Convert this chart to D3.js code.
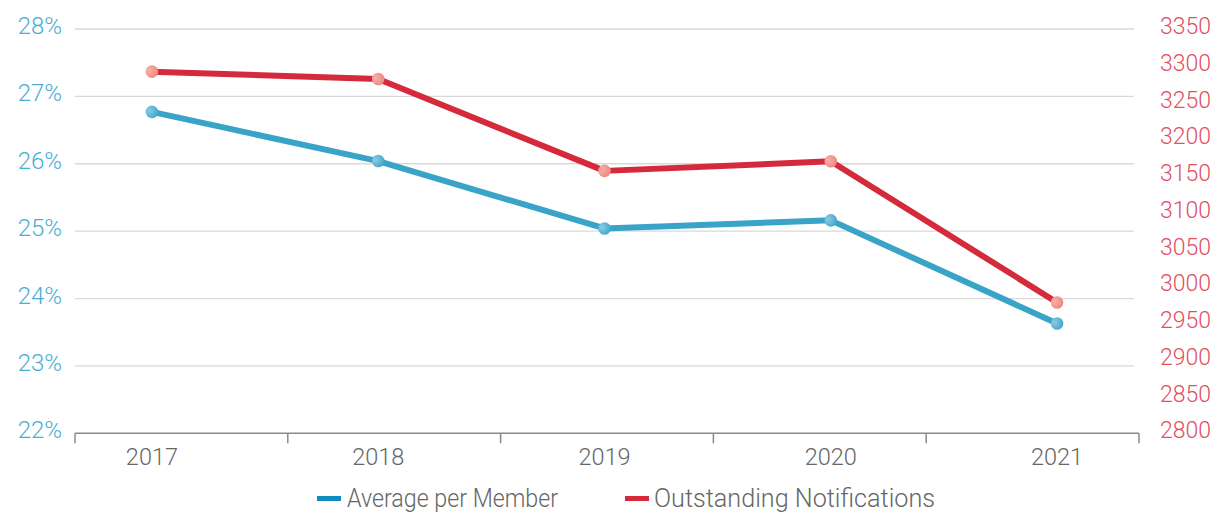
<!DOCTYPE html>
<html>
<head>
<meta charset="utf-8">
<script src="https://cdn.jsdelivr.net/npm/d3@7"></script>
<style>
  html, body { margin: 0; padding: 0; background: #fff; }
  svg { display: block; }
</style>
</head>
<body>
<svg id="chart" width="1218" height="513"></svg>
<script>
const years = ["2017", "2018", "2019", "2020", "2021"];
const averagePerMember = [26.77, 26.04, 25.04, 25.16, 23.63];
const outstandingNotifications = [3292, 3282, 3157, 3170, 2978];
const leftTicks = [22, 23, 24, 25, 26, 27, 28];
const rightTicks = [2800, 2850, 2900, 2950, 3000, 3050, 3100, 3150, 3200, 3250, 3300, 3350];
const seriesNames = ["Average per Member", "Outstanding Notifications"];

(function () {
const svg = d3.select("#chart");
const plotLeft = 75, plotRight = 1139, plotTop = 29, plotBottom = 433.3;

const xBand = d3.scaleBand().domain(years).range([plotLeft, plotRight]);
const x = d3.scalePoint().domain(years).range([plotLeft, 1134]).padding(0.34);
const yL = d3.scaleLinear().domain([22, 28]).range([plotBottom, plotTop]);
const yR = d3.scaleLinear().domain([2800, 3350]).range([plotBottom, plotTop]);

const defs = svg.append("defs");
function grad(id, c1, c2) {
  const g = defs.append("radialGradient").attr("id", id)
    .attr("cx", "30%").attr("cy", "40%").attr("r", "75%");
  g.append("stop").attr("offset", "0%").attr("stop-color", c1);
  g.append("stop").attr("offset", "100%").attr("stop-color", c2);
}
grad("gBlue", "#8ccbe4", "#3ea4c9");
grad("gRed", "#f7b0a8", "#ee857d");

// gridlines
svg.append("g").selectAll("line")
  .data(leftTicks.filter(d => d !== 22))
  .join("line")
  .attr("x1", plotLeft).attr("x2", 1134)
  .attr("y1", d => yL(d)).attr("y2", d => yL(d))
  .attr("stroke", "#d9d9d9").attr("stroke-width", 1.3);

// left tick labels
svg.append("g").selectAll("text")
  .data(leftTicks)
  .join("text")
  .attr("x", 62).attr("y", d => yL(d) + 5)
  .attr("text-anchor", "end")
  .attr("font-family", "Roboto, 'Liberation Sans', sans-serif")
  .attr("font-weight", 300)
  .attr("font-size", 24)
  .attr("fill", "#4aaed2")
  .text(d => d + "%");

// right tick labels
svg.append("g").selectAll("text")
  .data(rightTicks)
  .join("text")
  .attr("x", 1160).attr("y", d => yR(d) + 5)
  .attr("text-anchor", "start")
  .attr("font-family", "Roboto, 'Liberation Sans', sans-serif")
  .attr("font-weight", 300)
  .attr("font-size", 23)
  .attr("fill", "#e0505f")
  .text(d => d);

// x axis
const axisG = svg.append("g");
axisG.append("line")
  .attr("x1", plotLeft).attr("x2", plotRight)
  .attr("y1", plotBottom).attr("y2", plotBottom)
  .attr("stroke", "#8a8a8a").attr("stroke-width", 1.5);
const tickPos = years.map(d => xBand(d)).concat([xBand(years[years.length - 1]) + xBand.bandwidth()]);
axisG.selectAll("line.tick")
  .data(tickPos)
  .join("line").attr("class", "tick")
  .attr("x1", d => d).attr("x2", d => d)
  .attr("y1", plotBottom).attr("y2", plotBottom + 10)
  .attr("stroke", "#8a8a8a").attr("stroke-width", 1.5);
axisG.selectAll("text")
  .data(years)
  .join("text")
  .attr("x", d => x(d)).attr("y", 465)
  .attr("text-anchor", "middle")
  .attr("font-family", "Roboto, 'Liberation Sans', sans-serif")
  .attr("font-weight", 300)
  .attr("font-size", 23.5)
  .attr("fill", "#666")
  .text(d => d);

// lines
const lineL = d3.line().x((d, i) => x(years[i])).y(d => yL(d));
const lineR = d3.line().x((d, i) => x(years[i])).y(d => yR(d));

svg.append("path").datum(outstandingNotifications)
  .attr("d", lineR).attr("fill", "none")
  .attr("stroke", "#d42a3c").attr("stroke-width", 6)
  .attr("stroke-linejoin", "round");
svg.append("path").datum(averagePerMember)
  .attr("d", lineL).attr("fill", "none")
  .attr("stroke", "#3aa3c8").attr("stroke-width", 6)
  .attr("stroke-linejoin", "round");

svg.append("g").selectAll("circle")
  .data(outstandingNotifications)
  .join("circle")
  .attr("cx", (d, i) => x(years[i])).attr("cy", d => yR(d))
  .attr("r", 6.3).attr("fill", "url(#gRed)");
svg.append("g").selectAll("circle")
  .data(averagePerMember)
  .join("circle")
  .attr("cx", (d, i) => x(years[i])).attr("cy", d => yL(d))
  .attr("r", 6.3).attr("fill", "url(#gBlue)");

// legend
const legendItems = [
  { name: seriesNames[0], color: "#0e8bc1", sx: 317, tx: 347, w: 211 },
  { name: seriesNames[1], color: "#d42a3c", sx: 625, tx: 654, w: 281 }
];
const lg = svg.append("g");
legendItems.forEach(it => {
  lg.append("rect").attr("x", it.sx).attr("y", 496)
    .attr("width", 24).attr("height", 5).attr("fill", it.color);
  lg.append("text").attr("x", it.tx).attr("y", 507)
    .attr("font-family", "Roboto, 'Liberation Sans', sans-serif")
    .attr("font-weight", 300)
    .attr("font-size", 25)
    .attr("textLength", it.w)
    .attr("lengthAdjust", "spacingAndGlyphs")
    .attr("fill", "#666")
    .text(it.name);
});
})();
</script>
</body>
</html>
